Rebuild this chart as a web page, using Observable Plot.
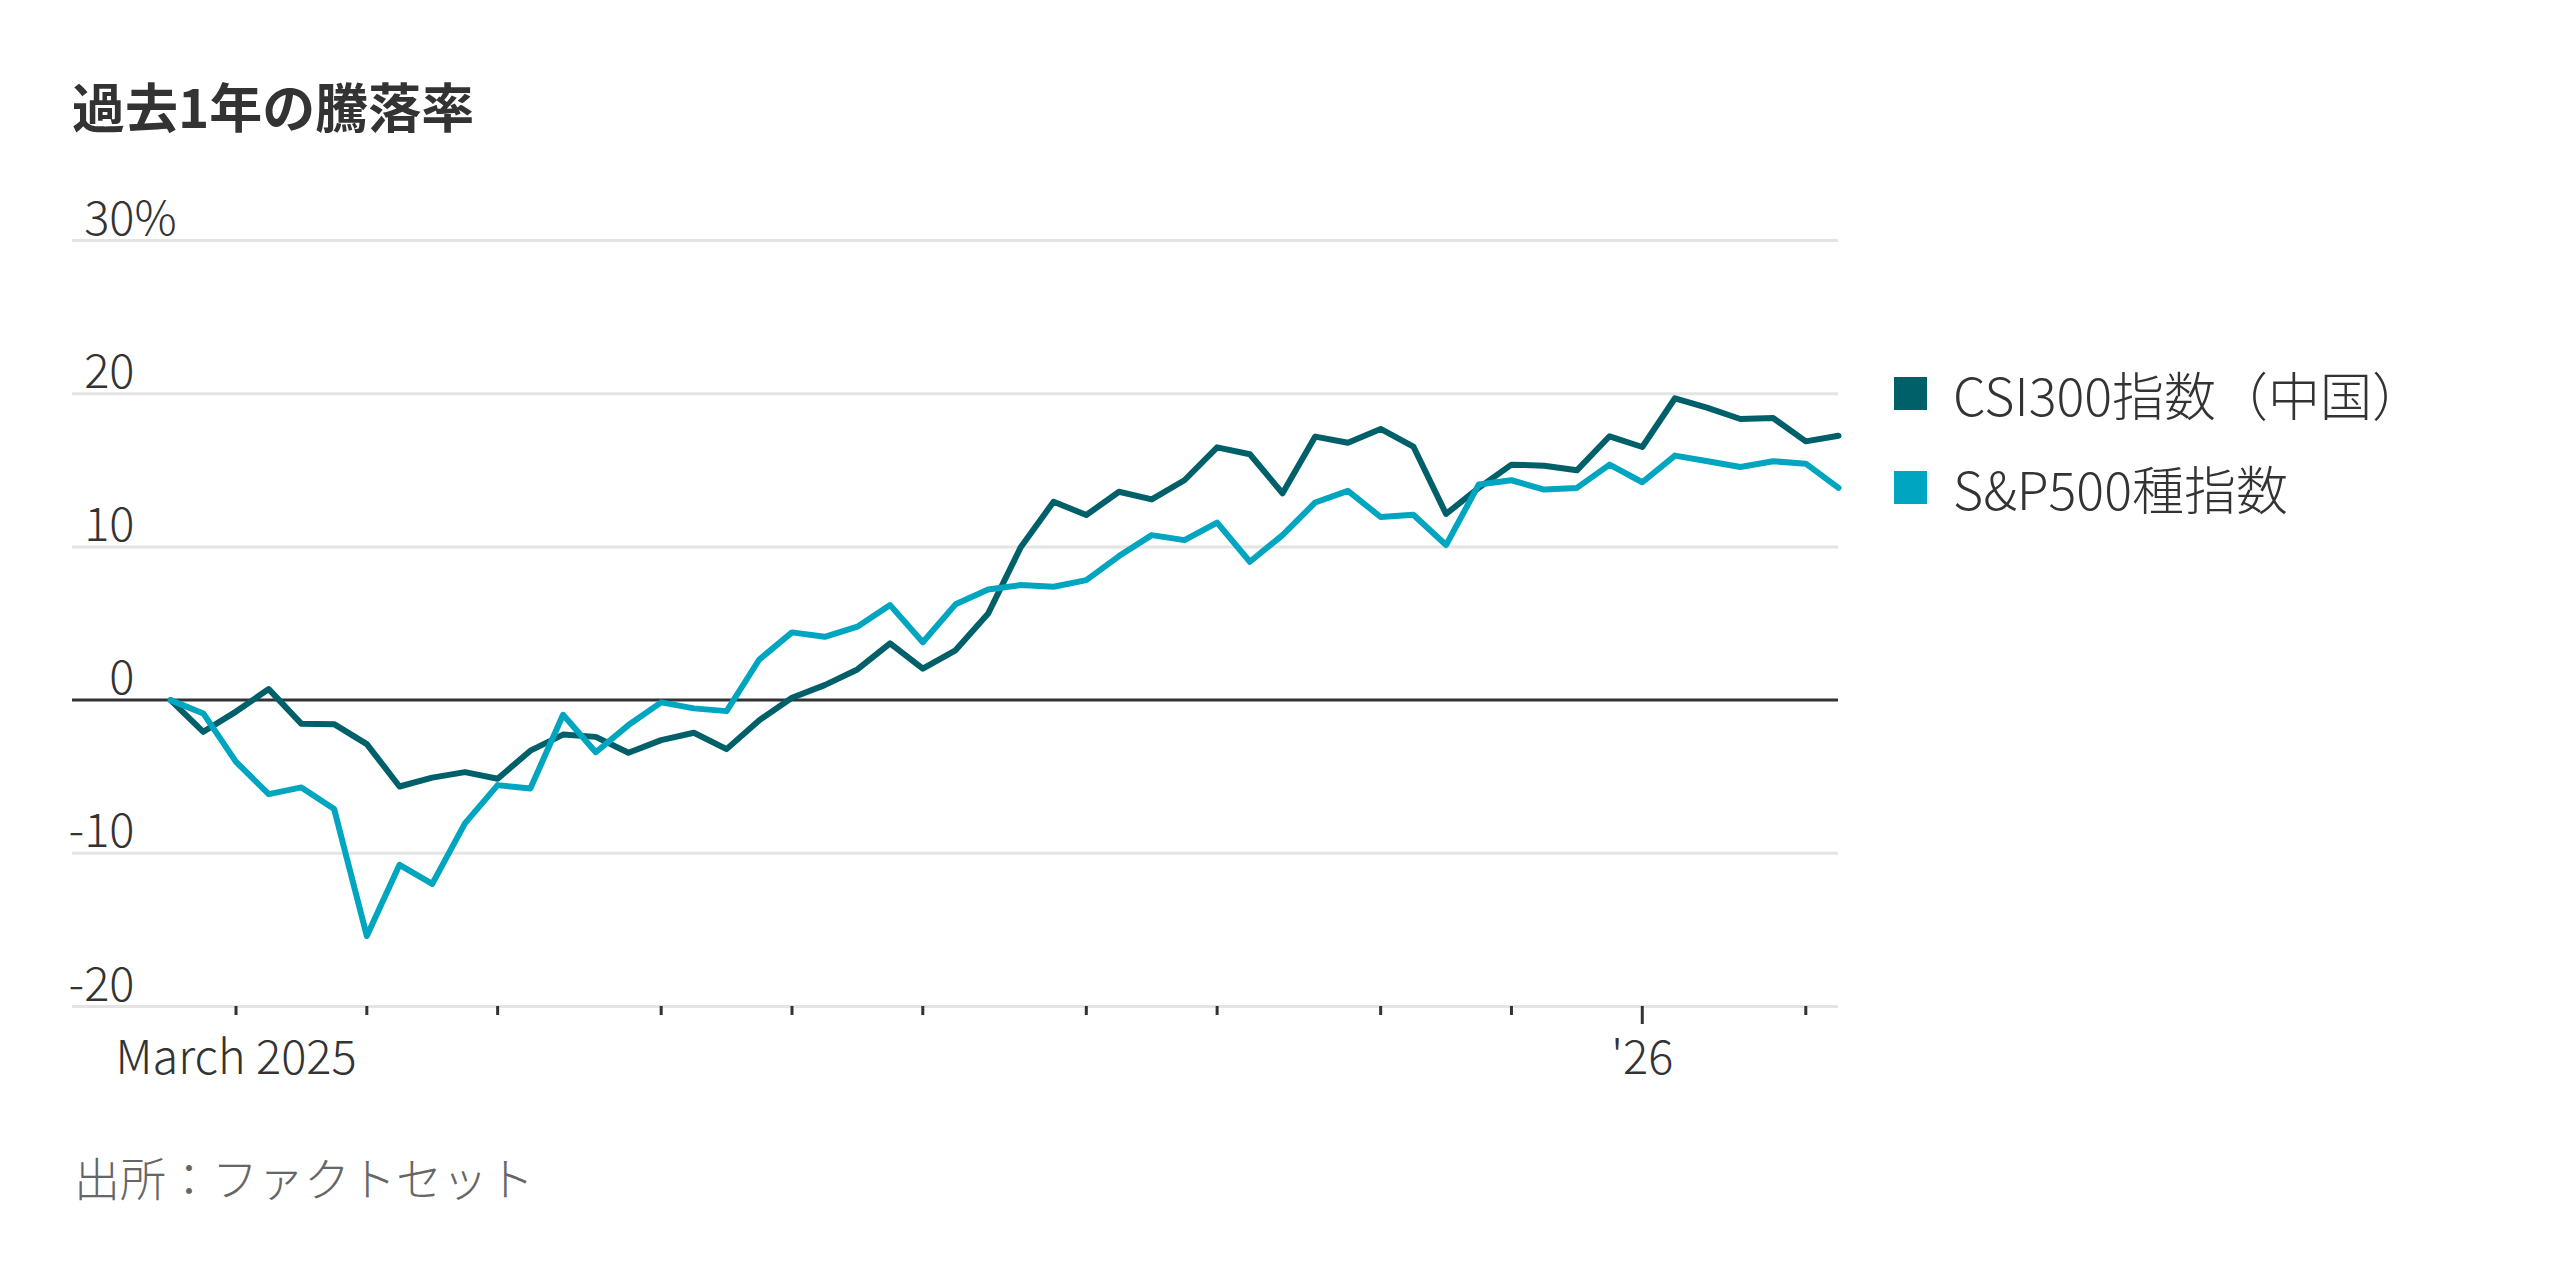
<!DOCTYPE html>
<html>
<head>
<meta charset="utf-8">
<script src="https://cdn.jsdelivr.net/npm/d3@7"></script>
<script src="https://cdn.jsdelivr.net/npm/@observablehq/plot@0.6"></script>
<style>
  html, body { margin: 0; padding: 0; background: #fff; }
  body { width: 2560px; height: 1280px; font-family: "Noto Sans CJK JP", "Noto Sans", sans-serif; color: #333; }
  #title { box-sizing: border-box; height: 170px; padding: 73px 0 0 72px; font-size: 53px; line-height: 64px; font-weight: 700; color: #333; }
  #row { display: flex; align-items: flex-start; }
  #legend { margin-left: 24px; padding-top: 176px; }
  .item { display: flex; align-items: center; height: 94px; font-size: 52px; font-weight: 300; color: #333; }
  .sw { width: 33px; height: 33px; margin-right: 26px; }
  #caption { padding-left: 74px; margin-top: 50px; font-size: 46px; line-height: 60px; font-weight: 300; color: #666; }
</style>
</head>
<body>
<div id="title">過去1年の騰落率</div>
<div id="row"><div id="chart"></div><div id="legend"></div></div>
<div id="caption">出所：ファクトセット</div>
<script>
// Weekly dates (Fridays)
const dates = [
  "2025-02-21","2025-02-28","2025-03-07","2025-03-14","2025-03-21","2025-03-28",
  "2025-04-04","2025-04-11","2025-04-18","2025-04-25","2025-05-02","2025-05-09",
  "2025-05-16","2025-05-23","2025-05-30","2025-06-06","2025-06-13","2025-06-20",
  "2025-06-27","2025-07-04","2025-07-11","2025-07-18","2025-07-25","2025-08-01",
  "2025-08-08","2025-08-15","2025-08-22","2025-08-29","2025-09-05","2025-09-12",
  "2025-09-19","2025-09-26","2025-10-03","2025-10-10","2025-10-17","2025-10-24",
  "2025-10-31","2025-11-07","2025-11-14","2025-11-21","2025-11-28","2025-12-05",
  "2025-12-12","2025-12-19","2025-12-26","2026-01-02","2026-01-09","2026-01-16",
  "2026-01-23","2026-01-30","2026-02-06","2026-02-13"
];
// CSI300指数（中国） % change
const csi300 = [
  0, -2.07, -0.75, 0.72, -1.55, -1.57, -2.87, -5.64, -5.06, -4.7, -5.13, -3.3,
  -2.25, -2.4, -3.44, -2.61, -2.13, -3.2, -1.31, 0.15, 0.98, 2.0, 3.7, 2.05,
  3.25, 5.65, 10.0, 12.95, 12.08, 13.6, 13.1, 14.35, 16.5, 16.05, 13.5, 17.2,
  16.8, 17.7, 16.55, 12.15, 13.85, 15.37, 15.3, 15.0, 17.22, 16.52, 19.7, 19.07,
  18.35, 18.41, 16.89, 17.26
];
// S&P500種指数 % change
const sp500 = [
  0, -0.87, -4.03, -6.14, -5.7, -7.11, -15.4, -10.75, -12.0, -8.05, -5.55, -5.77,
  -0.96, -3.4, -1.63, -0.15, -0.54, -0.72, 2.65, 4.42, 4.13, 4.79, 6.2, 3.78,
  6.25, 7.22, 7.51, 7.4, 7.83, 9.4, 10.77, 10.44, 11.58, 9.03, 10.77, 12.9,
  13.66, 11.95, 12.1, 10.12, 14.07, 14.35, 13.74, 13.85, 15.37, 14.22, 15.96, 15.59,
  15.22, 15.59, 15.43, 13.85
];
const seriesNames = ["CSI300指数（中国）", "S&P500種指数"];
const seriesColors = ["#00606a", "#00a5c0"];
const xTickDates = [
  "2025-03-07","2025-04-04","2025-05-02","2025-06-06","2025-07-04","2025-08-01",
  "2025-09-05","2025-10-03","2025-11-07","2025-12-05","2026-01-02","2026-02-06"
];
const xTickLabels = {"2025-03-07": "March 2025", "2026-01-02": "'26"};
const yTicks = [-20, -10, 0, 10, 20, 30];
const xDomain = ["2025-01-31", "2026-02-13"];

const parse = d3.utcParse("%Y-%m-%d");
const fmt = d3.utcFormat("%Y-%m-%d");
const data = dates.map((d, i) => ({date: parse(d), csi: csi300[i], sp: sp500[i]}));
const longTick = "2026-01-02";
const shortTicks = xTickDates.filter(d => d !== longTick).map(parse);

const chart = Plot.plot({
  width: 1870,
  height: 926,
  marginTop: 70,
  marginLeft: 72,
  marginRight: 32,
  marginBottom: 90,
  x: {type: "utc", domain: xDomain.map(parse)},
  y: {domain: [-20, 30]},
  style: {fontFamily: "'Noto Sans CJK JP', 'Noto Sans', sans-serif", fontSize: "47px", color: "#333", fontWeight: 300, background: "#fff"},
  marks: [
    Plot.ruleY(yTicks.filter(d => d !== 0), {stroke: "#e4e4e4", strokeWidth: 3}),
    Plot.axisY({ticks: yTicks, tickSize: 0, tickPadding: 0, textAnchor: "end", dx: 62, lineAnchor: "bottom", dy: -6, tickFormat: d => String(d), label: null, fontSize: 47}),
    Plot.text([30], {y: d => d, text: () => "%", frameAnchor: "left", textAnchor: "start", dx: 62, lineAnchor: "bottom", dy: -6, fontSize: 47, fill: "#333"}),
    Plot.axisX({ticks: shortTicks, tickSize: 9, tickPadding: 25, strokeWidth: 3, tickFormat: d => xTickLabels[fmt(d)] || "", label: null, fontSize: 47}),
    Plot.axisX({ticks: [parse(longTick)], tickSize: 18, tickPadding: 16, strokeWidth: 3, tickFormat: d => xTickLabels[fmt(d)] || "", label: null, fontSize: 47}),
    Plot.ruleY([0], {stroke: "#333", strokeWidth: 3}),
    Plot.line(data, {x: "date", y: "csi", stroke: seriesColors[0], strokeWidth: 6}),
    Plot.line(data, {x: "date", y: "sp", stroke: seriesColors[1], strokeWidth: 6})
  ]
});
document.getElementById("chart").appendChild(chart);

const legend = document.getElementById("legend");
seriesNames.forEach((name, i) => {
  const item = document.createElement("div");
  item.className = "item";
  const sw = document.createElement("span");
  sw.className = "sw";
  sw.style.background = seriesColors[i];
  const label = document.createElement("span");
  label.textContent = name;
  item.appendChild(sw);
  item.appendChild(label);
  legend.appendChild(item);
});
</script>
</body>
</html>
